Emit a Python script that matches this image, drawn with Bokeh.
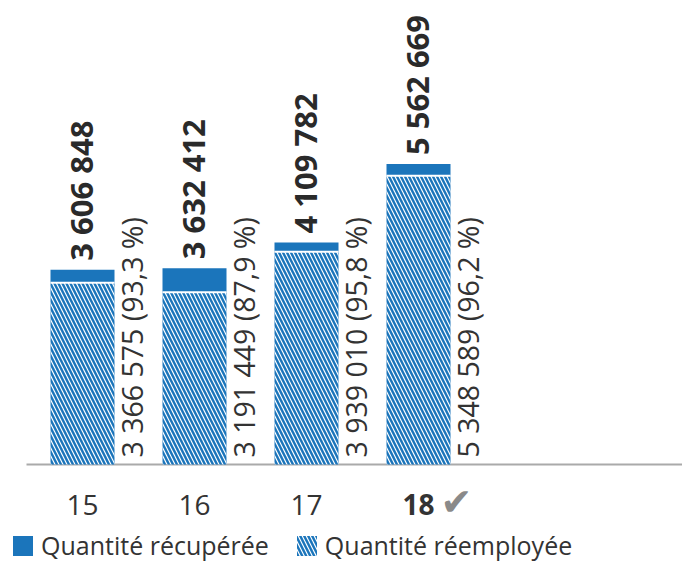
import math
from bokeh.plotting import figure
from bokeh.models import ColumnDataSource, Range1d, Legend, LegendItem
from bokeh.core.properties import value
from bokeh.embed import file_html
from bokeh.resources import INLINE

# ---- data ----
years = ["15", "16", "17", "18"]
recovered = [3606848, 3632412, 4109782, 5562669]
reused = [3366575, 3191449, 3939010, 5348589]
reused_pct = ["93,3", "87,9", "95,8", "96,2"]
current_year = "18"

BLUE = "#1b75bb"
TEXT = "#333333"
FONT = "Open Sans"

def fmt(v):
    return f"{v:,}".replace(",", " ")

xs = list(range(len(years)))
src = ColumnDataSource(dict(
    x=xs,
    recovered=recovered,
    reused=reused,
    total_lbl=[fmt(v) for v in recovered],
    reused_lbl=[f"{fmt(v)} ({p} %)" for v, p in zip(reused, reused_pct)],
    zero=[0] * len(xs),
))
reg_idx = [i for i, y in enumerate(years) if y != current_year]
cur_idx = [i for i, y in enumerate(years) if y == current_year]
tick_reg = ColumnDataSource(dict(x=[xs[i] for i in reg_idx], y=[0] * len(reg_idx), t=[years[i] for i in reg_idx]))
tick_cur = ColumnDataSource(dict(x=[xs[i] for i in cur_idx], y=[0] * len(cur_idx), t=[years[i] for i in cur_idx]))

W, H = 682, 562
PX_PER_UNIT_X = 112.0
PX_PER_UNIT_Y = 54.0 / 1e6
x0_px, base_px = 82.0, 464.0

p = figure(width=W, height=H, output_backend="svg", toolbar_location=None,
           x_axis_location=None, y_axis_location=None, min_border=0,
           x_range=Range1d(-x0_px / PX_PER_UNIT_X, (W - x0_px) / PX_PER_UNIT_X),
           y_range=Range1d(-(H - base_px) / PX_PER_UNIT_Y, base_px / PX_PER_UNIT_Y))
p.outline_line_color = None
p.grid.visible = False
p.background_fill_color = "white"

bw = 64 / PX_PER_UNIT_X

# baseline
p.segment(x0=[-0.5], y0=[0], x1=[p.x_range.end], y1=[0], line_color="#aaaaaa", line_width=2)

r_rec = p.vbar(x="x", bottom="reused", top="recovered", width=bw, source=src,
               fill_color=BLUE, line_color=None)
r_reu = p.vbar(x="x", bottom="zero", top="reused", width=bw, source=src,
               fill_color=BLUE, line_color=None,
               hatch_pattern="\\", hatch_color="white", hatch_weight=1.2, hatch_scale=8)
# white separator
p.rect(x="x", y="reused", width=bw, height=2, height_units="screen", source=src,
       fill_color="white", line_color=None)

# labels
p.text(x="x", y="recovered", text="total_lbl", source=src, angle=math.pi / 2,
       x_offset=-2, y_offset=-9, text_align="left", text_baseline="alphabetic",
       text_font=value(FONT), text_font_style="bold", text_font_size="31px", text_color="#2a2a2a")
p.text(x="x", y="zero", text="reused_lbl", source=src, angle=math.pi / 2,
       x_offset=49, y_offset=-7, text_align="left", text_baseline="alphabetic",
       text_font=value(FONT), text_font_size="28.5px", text_color=TEXT)

# category labels
p.text(x="x", y="y", text="t", source=tick_reg, y_offset=40, text_align="center",
       text_baseline="alphabetic", text_font=value(FONT), text_font_size="28px", text_color=TEXT)
p.text(x="x", y="y", text="t", source=tick_cur, y_offset=40, text_align="center",
       text_baseline="alphabetic", text_font=value(FONT), text_font_size="28px",
       text_font_style="bold", text_color=TEXT)
p.text(x="x", y="y", text=value("\u2714"), source=tick_cur, x_offset=38, y_offset=37,
       text_align="center", text_baseline="alphabetic", text_font=value("DejaVu Sans"),
       text_font_size="38px", text_color="#8a8a8a")

legend = Legend(items=[LegendItem(label="Quantité récupérée", renderers=[r_rec]),
                       LegendItem(label="Quantité réemployée", renderers=[r_reu])],
                orientation="horizontal", location=(10, 0),
                label_text_font=FONT, label_text_font_size="25px", label_text_color=TEXT,
                glyph_width=25, glyph_height=25, label_standoff=6, spacing=25,
                padding=0, margin=0, border_line_color=None, background_fill_alpha=0)
p.add_layout(legend, "center")

open("out.html", "w").write(file_html(p, INLINE))
